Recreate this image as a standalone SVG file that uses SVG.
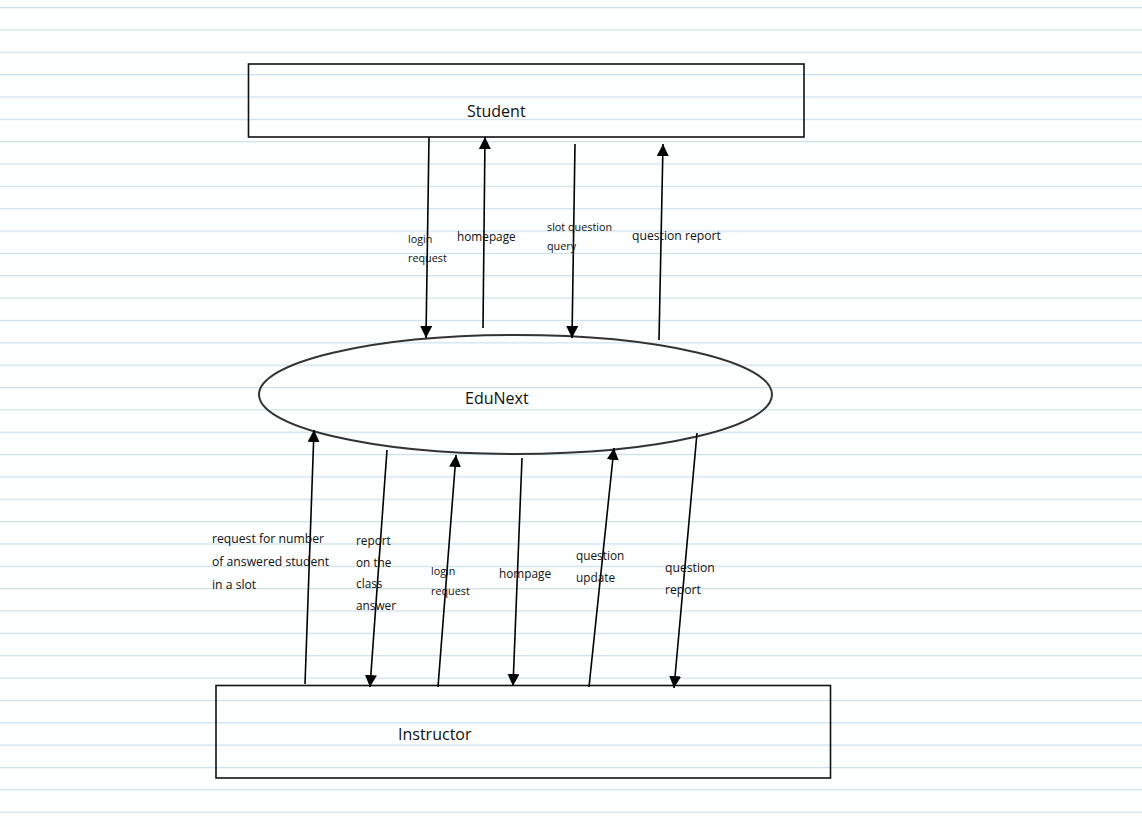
<svg xmlns="http://www.w3.org/2000/svg" width="1142" height="827" viewBox="0 0 1142 827">
<defs>
<marker id="arr" viewBox="0 0 12 12" refX="12" refY="6" markerWidth="12" markerHeight="12" markerUnits="userSpaceOnUse" orient="auto">
<path d="M0,0 L12,6 L0,12 Z" fill="#000"/>
</marker>
<pattern id="ruled" x="0" y="7" width="1142" height="22.35" patternUnits="userSpaceOnUse">
<rect x="0" y="0" width="1142" height="1.2" fill="#cddfe9"/>
</pattern>
</defs>
<style>
text{font-family:"Open Sans","Noto Sans","DejaVu Sans",sans-serif;fill:#111;}
.t{font-size:16px;}
.s{font-size:10.8px;}
.m{font-size:11.8px;}
.l{font-size:12.2px;}
.box{fill:none;stroke:#111;stroke-width:1.6;}
.c{stroke:#000;stroke-width:1.6;fill:none;marker-end:url(#arr);}
</style>
<rect x="0" y="0" width="1142" height="827" fill="#fdfefe"/>
<rect x="0" y="6.3" width="1142" height="815" fill="url(#ruled)"/>
<g id="student">
<rect class="box" x="248.5" y="64" width="555.5" height="73"/>
<text class="t" x="467" y="117">Student</text>
</g>
<g id="edunext">
<ellipse cx="515.5" cy="394.5" rx="256.5" ry="59.5" fill="none" stroke="#333" stroke-width="2"/>
<text class="t" x="465" y="404">EduNext</text>
</g>
<g id="instructor">
<rect class="box" x="216" y="685.5" width="614.5" height="92.5"/>
<text class="t" x="398" y="740">Instructor</text>
</g>
<g id="connectors">
<line class="c" x1="429" y1="137" x2="426" y2="338"/>
<line class="c" x1="483" y1="328" x2="485" y2="137"/>
<line class="c" x1="575" y1="144" x2="572" y2="338"/>
<line class="c" x1="659" y1="340" x2="663" y2="144"/>
<line class="c" x1="305" y1="684" x2="314" y2="430"/>
<line class="c" x1="387" y1="450" x2="370" y2="687"/>
<line class="c" x1="438" y1="687" x2="456" y2="455"/>
<line class="c" x1="522" y1="458" x2="513" y2="686"/>
<line class="c" x1="589" y1="687" x2="614" y2="448"/>
<line class="c" x1="697" y1="433" x2="674" y2="688"/>
<text class="s" x="408" y="243">login</text>
<text class="s" x="408" y="262">request</text>
<text class="m" x="457" y="241">homepage</text>
<text class="s" x="547" y="231">slot question</text>
<text class="s" x="547" y="250">query</text>
<text class="l" x="632" y="240">question report</text>
<text class="l" x="212" y="543">request for number</text>
<text class="l" x="212" y="566">of answered student</text>
<text class="l" x="212" y="589">in a slot</text>
<text class="m" x="356" y="545">report</text>
<text class="m" x="356" y="567">on the</text>
<text class="m" x="356" y="588">class</text>
<text class="m" x="356" y="610">answer</text>
<text class="s" x="431" y="575">login</text>
<text class="s" x="431" y="595">request</text>
<text class="m" x="499" y="578">hompage</text>
<text class="m" x="576" y="560">question</text>
<text class="m" x="576" y="582">update</text>
<text class="l" x="665" y="572">question</text>
<text class="l" x="665" y="594">report</text>
</g>
</svg>
